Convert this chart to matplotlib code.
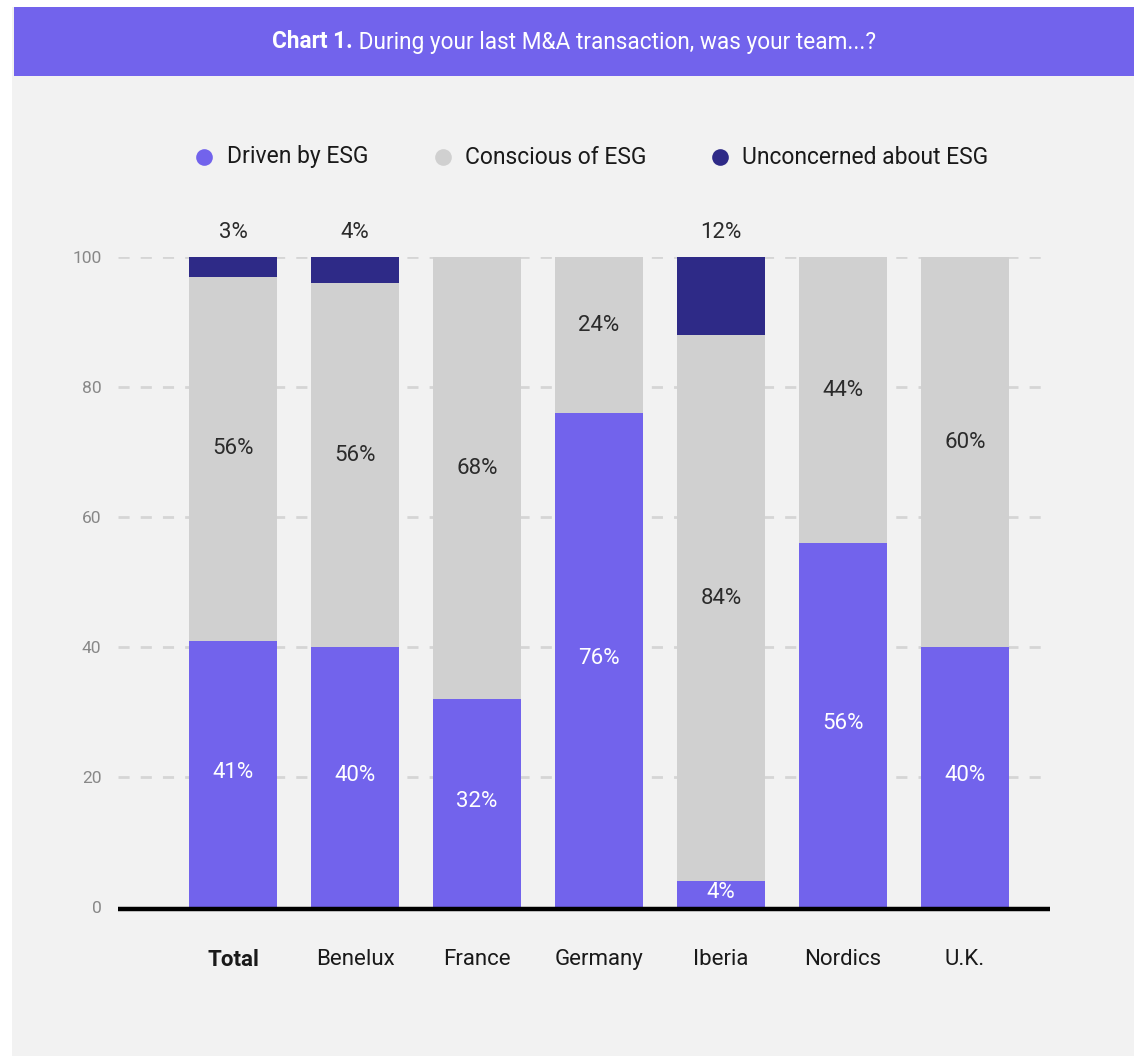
import matplotlib
matplotlib.use("Agg")
import matplotlib.pyplot as plt
from matplotlib.patches import Rectangle
from matplotlib.lines import Line2D

plt.rcParams['font.family'] = ['Roboto', 'DejaVu Sans']

# Survey shares (%) per region
regions = ["Total", "Benelux", "France", "Germany", "Iberia", "Nordics", "U.K."]
driven = [41, 40, 32, 76, 4, 56, 40]
conscious = [56, 56, 68, 24, 84, 44, 60]
unconcerned = [3, 4, 0, 0, 12, 0, 0]
series_names = ["Driven by ESG", "Conscious of ESG", "Unconcerned about ESG"]
y_ticks = [0, 20, 40, 60, 80, 100]

PURPLE = "#7263EC"
GREY = "#D0D0D0"
NAVY = "#2E2A87"
PANEL = "#F2F2F2"
DARK = "#2B2B2B"

W, H = 1134, 1056
fig = plt.figure(figsize=(W / 100, H / 100), dpi=100, facecolor="white")

def fx(px):
    return px / W

def fy(py):
    return 1 - py / H

# panel and header band
fig.patches.append(Rectangle((fx(12), 0), 1 - fx(12), fy(7), transform=fig.transFigure,
                             facecolor=PANEL, edgecolor="none", zorder=0))
fig.patches.append(Rectangle((fx(14), fy(76)), 1 - fx(14), fy(7) - fy(76), transform=fig.transFigure,
                             facecolor=PURPLE, edgecolor="none", zorder=1))

# title: bold lead followed by regular text, centred in the band
t1 = fig.text(0, fy(42), "Chart 1.", color="white", fontsize=16.3, fontweight="bold",
              va="center", ha="left")
t2 = fig.text(0, fy(42), " During your last M&A transaction, was your team...?", color="white",
              fontsize=16.3, va="center", ha="left")
fig.canvas.draw()
r = fig.canvas.get_renderer()
w1 = t1.get_window_extent(r).width
w2 = t2.get_window_extent(r).width
start = (14 + 1134) / 2 - (w1 + w2) / 2
t1.set_x(fx(start))
t2.set_x(fx(start + w1))

# plotting area
left, right, bottom, top = 118, 1050, 907, 257
ax = fig.add_axes([fx(left), fy(bottom), fx(right) - fx(left), fy(top) - fy(bottom)])
ax.set_facecolor("none")
ax.set_zorder(2)

x = list(range(len(regions)))
bw = 88 / 122
base2 = [d + c for d, c in zip(driven, conscious)]
ax.bar(x, driven, width=bw, color=PURPLE, zorder=3)
ax.bar(x, conscious, width=bw, bottom=driven, color=GREY, zorder=3)
ax.bar(x, unconcerned, width=bw, bottom=base2, color=NAVY, zorder=3)

ax.set_xlim((left - 233) / 122, (right - 233) / 122)
ax.set_ylim(0, 100)

for yv in y_ticks[1:]:
    ax.axhline(yv, color="#D5D5D5", lw=2, ls=(0, (4, 4)), zorder=1)
ax.axhline(-0.3, color="black", lw=3.2, zorder=4, solid_capstyle="butt", clip_on=False)

for i in x:
    ax.text(i, driven[i] / 2 + 0.2, f"{driven[i]}%", ha="center", va="center", color="white",
            fontsize=16, zorder=5)
    ax.text(i, driven[i] + conscious[i] / 2 + 1.5, f"{conscious[i]}%", ha="center", va="center",
            color=DARK, fontsize=16, zorder=5)
    if unconcerned[i] > 0:
        ax.text(i, 103.7, f"{unconcerned[i]}%", ha="center", va="center", color=DARK,
                fontsize=16, zorder=5, clip_on=False)

for s in ax.spines.values():
    s.set_visible(False)
ax.set_yticks(y_ticks)
ax.set_yticklabels([str(v) for v in y_ticks], color="#888888", fontsize=12.5)
ax.tick_params(axis="y", length=0, pad=12)
ax.set_xticks(x)
ax.set_xticklabels(regions, fontsize=16, color="#1A1A1A")
ax.tick_params(axis="x", length=0, pad=30)
ax.get_xticklabels()[0].set_fontweight("bold")

# legend row
leg_y = fy(157)
for mx, tx, name, col in zip([204, 443, 720], [227, 465, 742], series_names, [PURPLE, GREY, NAVY]):
    fig.add_artist(Line2D([fx(mx)], [leg_y], marker="o", markersize=12, color=col,
                          markeredgewidth=0, linestyle="none", transform=fig.transFigure))
    fig.text(fx(tx), leg_y, name, fontsize=16.5, color="#1A1A1A", va="center", ha="left")

fig.savefig("out.png", dpi=100, facecolor="white")
